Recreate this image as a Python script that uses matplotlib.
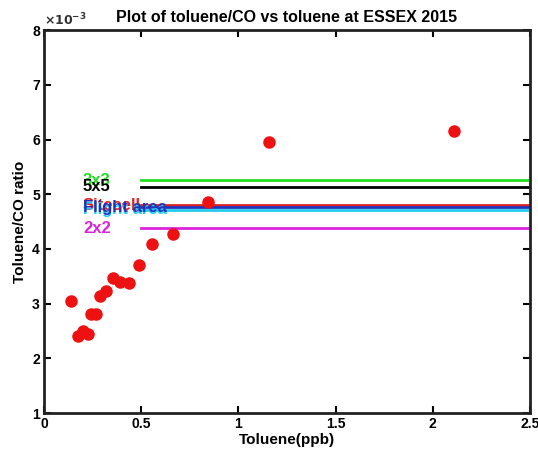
import matplotlib
matplotlib.use('Agg')
import matplotlib.pyplot as plt
from matplotlib.ticker import FuncFormatter

plt.rcParams['font.family'] = ['Liberation Sans', 'DejaVu Sans']
plt.rcParams['font.weight'] = 'bold'

# toluene (ppb) vs toluene/CO ratio
toluene = [0.137, 0.176, 0.202, 0.225, 0.242, 0.266, 0.288, 0.319, 0.353,
           0.391, 0.439, 0.489, 0.557, 0.665, 0.842, 1.157, 2.11]
ratio = [3.05e-3, 2.41e-3, 2.50e-3, 2.44e-3, 2.82e-3, 2.82e-3, 3.14e-3, 3.23e-3,
         3.47e-3, 3.39e-3, 3.38e-3, 3.70e-3, 4.10e-3, 4.28e-3, 4.86e-3, 5.95e-3,
         6.15e-3]

# reference lines
ref_names = ['3x3', '5x5', 'Sitecell', 'Flight area', 'Flight area', '2x2']
ref_values = [5.26e-3, 5.135e-3, 4.80e-3, 4.72e-3, 4.76e-3, 4.375e-3]
ref_colors = ['#22dd22', 'black', '#dd2222', '#22ccee', '#2233bb', '#dd22dd']
ref_x = [0.5, 2.5]
label_x = 0.2

fig = plt.figure(figsize=(5.38, 4.5), dpi=100)
ax = fig.add_axes([0.082, 0.082, 0.903, 0.851])

ax.plot(toluene, ratio, 'o', color='#ee1111', markersize=8, zorder=3)

for name, val, col in zip(ref_names, ref_values, ref_colors):
  ax.plot(ref_x, [val, val], color=col, linewidth=2)
  ax.text(label_x, val, name, color=col, fontsize=12, fontweight='bold',
          va='center', ha='left')

ax.set_xlim(0, 2.5)
ax.set_ylim(1e-3, 8e-3)
ax.set_xticks([0, 0.5, 1, 1.5, 2, 2.5])
ax.set_xticklabels(['0', '0.5', '1', '1.5', '2', '2.5'])
ax.set_yticks([i * 1e-3 for i in range(1, 9)])
ax.yaxis.set_major_formatter(FuncFormatter(lambda v, p: '%d' % round(v * 1e3)))

ax.tick_params(direction='in', top=True, right=True, length=5, width=1.5,
               labelsize=10, pad=3)
for lab in ax.get_xticklabels() + ax.get_yticklabels():
  lab.set_fontweight('bold')
for sp in ax.spines.values():
  sp.set_linewidth(2)
  sp.set_color('#222222')

ax.text(0.0, 1.005, r'$\times10^{-3}$', transform=ax.transAxes, fontsize=9,
        fontweight='normal', va='bottom', ha='left', color='#333333')

ax.set_title('Plot of toluene/CO vs toluene at ESSEX 2015', fontsize=11.5,
             fontweight='bold', pad=6)
ax.set_xlabel('Toluene(ppb)', fontsize=11, fontweight='bold', labelpad=1)
ax.set_ylabel('Toluene/CO ratio', fontsize=11, fontweight='bold', labelpad=4)

fig.savefig('out.png', dpi=100)
